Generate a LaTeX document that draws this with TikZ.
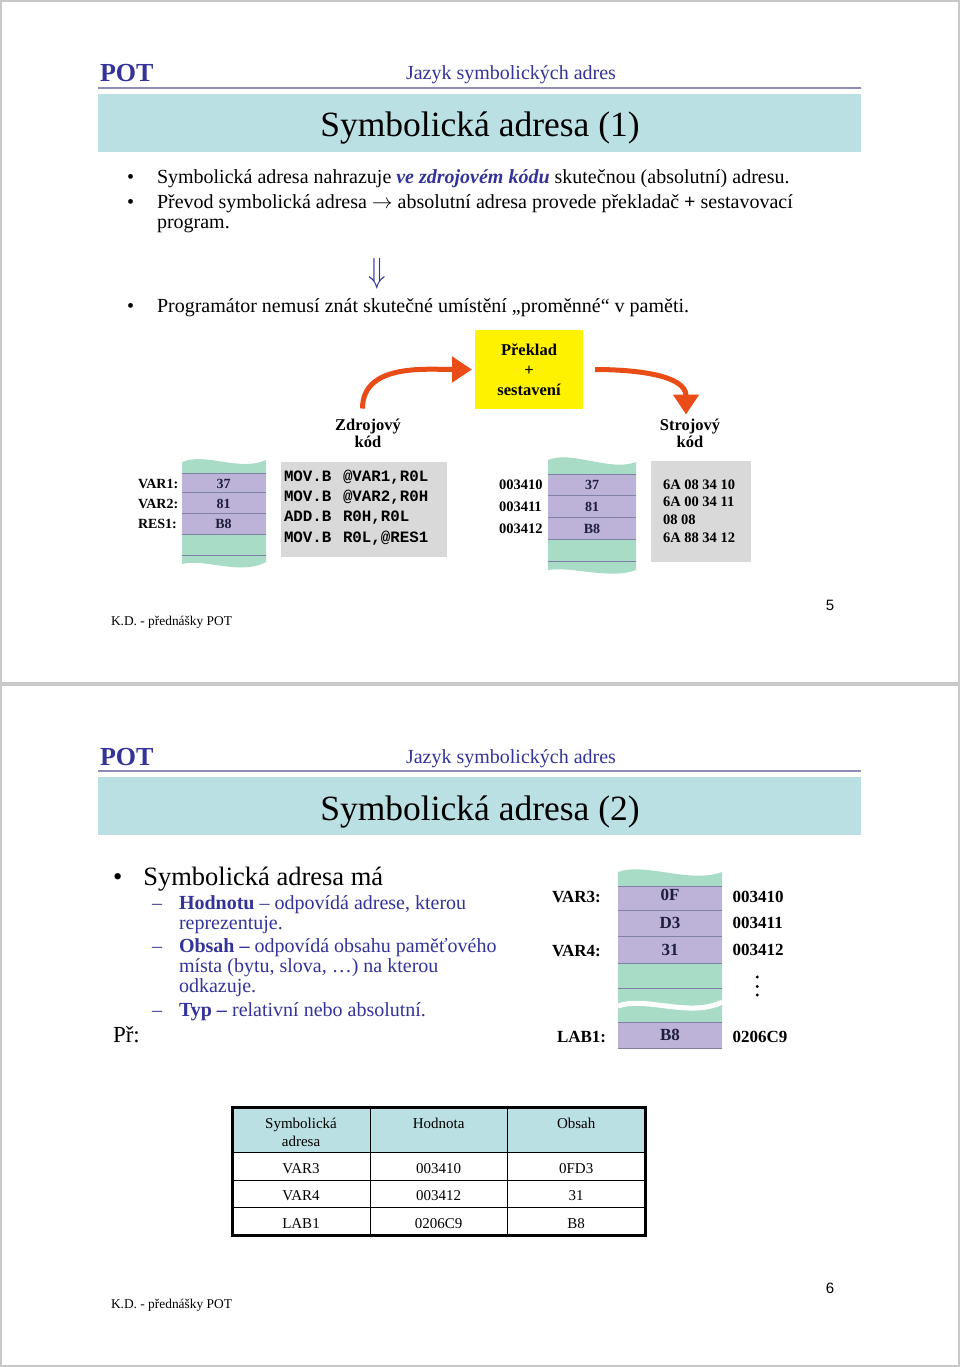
\documentclass[tikz,border=0pt]{standalone}
\usepackage{fontspec}
\setmainfont{Liberation Serif}
\setmonofont{Liberation Mono}
\newfontfamily\pagenumfont{Liberation Sans}
\usetikzlibrary{arrows.meta,positioning,calc}

\definecolor{potblue}{RGB}{51,51,153}
\definecolor{bandcyan}{RGB}{187,224,227}
\definecolor{rulegray}{RGB}{140,140,180}
\definecolor{mempurple}{RGB}{189,178,216}
\definecolor{memgreen}{RGB}{168,220,199}
\definecolor{memline}{RGB}{128,128,168}
\definecolor{memtext}{RGB}{30,30,60}
\definecolor{arroworange}{RGB}{234,76,24}
\definecolor{codegray}{RGB}{217,217,217}
\definecolor{framegray}{RGB}{200,200,200}

\newcommand{\fsz}[2]{\fontsize{#1}{#2}\selectfont}

\begin{document}
\begin{tikzpicture}[x=1pt,y=-1pt,
    every node/.style={inner sep=0pt,outer sep=0pt},
    body/.style={anchor=base west,align=left,font=\fsz{20}{19.7}},
    sub/.style={anchor=base west,align=left,font=\fsz{20}{20},text=potblue},
    memval/.style={anchor=base,font=\bfseries\fsz{14}{14},text=memtext},
    memlab/.style={anchor=base west,font=\bfseries\fsz{14.5}{14.5}},
    flowarrow/.style={draw=arroworange,line width=5pt,-{Triangle[length=20pt,width=25pt]}},
    cell/.style={anchor=base,font=\fsz{15}{18.7}}]
\useasboundingbox (0,0) rectangle (960,1367);

% Pages
\draw[framegray,line width=1.5pt] (1,1) rectangle (959,683);
\draw[framegray,line width=1.5pt] (1,685) rectangle (959,1366);

%% ---------------- Slide 5 ----------------
% Header
\node[anchor=base west,font=\bfseries\fsz{26}{26},text=potblue] (pot1) at (100,82) {POT};
\node[anchor=base,font=\fsz{20}{20},text=potblue] (topic1) at (511,80) {Jazyk symbolických adres};
\draw[rulegray,line width=2.5pt] (98,88) -- (861,88);
\fill[bandcyan] (98,94) rectangle (861,152);
\node[anchor=base,font=\fsz{35.5}{35.5}] (title1) at (480,137) {Symbolická adresa (1)};

% Bullets
\node[body] (dot1) at (127,184) {\textbullet};
\node[body] (item1) at (157,184) {Symbolická adresa nahrazuje \textcolor{potblue}{\textbf{\textit{ve zdrojovém kódu}}} skutečnou (absolutní) adresu.};
\node[body] (dot2) at (127,208.3) {\textbullet};
\node[body] (item2) at (157,228) {Převod symbolická adresa $\rightarrow$ absolutní adresa provede překladač \textbf{+} sestavovací\\program.};
\node[font=\fsz{32}{32},text=potblue] (thus) at (377.5,273.5) {\scalebox{1.15}[1.4]{$\Downarrow$}};
\node[body] (dot3) at (127,312.5) {\textbullet};
\node[body] (item3) at (157,312.5) {Programátor nemusí znát skutečné umístění „proměnné“ v paměti.};

% Translation flow
\node[fill=yellow,minimum width=108pt,minimum height=79pt,align=center,font=\bfseries\fsz{16.5}{20}] (preklad) at (529,369.5) {Překlad\\+\\sestavení};
\node[anchor=base,align=center,font=\bfseries\fsz{16.5}{17}] (zdroj) at (368,447) {Zdrojový\\kód};
\node[anchor=base,align=center,font=\bfseries\fsz{16.5}{17}] (stroj) at (690,447) {Strojový\\kód};
\draw[flowarrow] ([xshift=-5.5pt,yshift=10pt]zdroj.north) to[out=90,in=180] ([xshift=-3pt]preklad.west);
\draw[flowarrow] ([xshift=12pt]preklad.east) to[out=0,in=90] ([xshift=-4pt,yshift=4pt]stroj.north);

% Source memory
\fill[memgreen] (182,462) .. controls (205,452) and (240,472) .. (266,460)
    -- (266,562) .. controls (240,576) and (205,558) .. (182,564) -- cycle;
\fill[mempurple] (182,473.3) rectangle (266,534);
\foreach \y in {473.3,492.7,513.3,534,555}
    \draw[memline,line width=0.6pt] (182,\y) -- (266,\y);
\foreach \lab/\val/\y [count=\i] in {VAR1:/37/488,VAR2:/81/508,RES1:/B8/528}{
    \node[memlab,font=\bfseries\fsz{14}{14}] (srclab\i) at (138,\y) {\lab};
    \node[memval] (srcval\i) at (223.5,\y) {\val};
}

% Source code
\fill[codegray] (280.7,462) rectangle (446.7,556.7);
\foreach \y/\op/\arg [count=\i] in {481.7/MOV.B/{@VAR1,R0L},501.7/MOV.B/{@VAR2,R0H},521.7/ADD.B/{R0H,R0L},542.3/MOV.B/{R0L,@RES1}}{
    \node[anchor=base west,font=\ttfamily\bfseries\fsz{15.8}{15.8}] (op\i) at (284,\y) {\op};
    \node[anchor=base west,font=\ttfamily\bfseries\fsz{15.8}{15.8}] (arg\i) at (343,\y) {\arg};
}

% Machine memory
\fill[memgreen] (548,460) .. controls (572,450) and (610,472) .. (636,462)
    -- (636,570) .. controls (610,580) and (572,566) .. (548,570) -- cycle;
\fill[mempurple] (548,474) rectangle (636,539.3);
\foreach \y in {474,495,517.3,539.3,561.7}
    \draw[memline,line width=0.6pt] (548,\y) -- (636,\y);
\foreach \adr/\val/\y [count=\i] in {003410/37/489,003411/81/511,003412/B8/533}{
    \node[memlab] (adr\i) at (499,\y) {\adr};
    \node[memval] (objval\i) at (592,\y) {\val};
}

% Machine code
\fill[codegray] (651,461) rectangle (751,562);
\foreach \bytes/\y [count=\i] in {6A 08 34 10/489,6A 00 34 11/506.5,08 08/524,6A 88 34 12/542}
    \node[anchor=base west,font=\bfseries\fsz{14.5}{14.5}] (hex\i) at (663,\y) {\bytes};

% Footer
\node[anchor=base west,font=\fsz{13.4}{13.4}] (foot1) at (111,625) {K.D. - přednášky POT};
\node[anchor=base,font=\pagenumfont\fsz{15}{15}] (num1) at (830,610) {5};

%% ---------------- Slide 6 ----------------
% Header
\node[anchor=base west,font=\bfseries\fsz{26}{26},text=potblue] (pot2) at (100,765) {POT};
\node[anchor=base,font=\fsz{20}{20},text=potblue] (topic2) at (511,763) {Jazyk symbolických adres};
\draw[rulegray,line width=2.5pt] (98,771) -- (861,771);
\fill[bandcyan] (98,777) rectangle (861,835);
\node[anchor=base,font=\fsz{35.5}{35.5}] (title2) at (480,820) {Symbolická adresa (2)};

% Bullet with sub items
\node[anchor=base west,font=\fsz{26.5}{26.5}] (dot4) at (113,885) {\textbullet};
\node[anchor=base west,font=\fsz{26.5}{26.5}] (item4) at (143.3,885) {Symbolická adresa má};
\node[sub] (dash1) at (152,909) {–};
\node[sub] (sub1) at (179,929) {\textbf{Hodnotu} – odpovídá adrese, kterou\\reprezentuje.};
\node[sub] (dash2) at (152,952) {–};
\node[sub] (sub2) at (179,992) {\textbf{Obsah –} odpovídá obsahu paměťového\\místa (bytu, slova, …) na kterou\\odkazuje.};
\node[sub] (dash3) at (152,1016.5) {–};
\node[sub] (sub3) at (179,1016.5) {\textbf{Typ –} relativní nebo absolutní.};
\node[anchor=base west,font=\fsz{23}{23}] (example) at (113,1042) {Př:};

% Example memory
\fill[memgreen] (618,872) .. controls (645,862) and (690,884) .. (722,872)
    -- (722,1048.3) -- (618,1048.3) -- cycle;
\fill[mempurple] (618,886) rectangle (722,963.3);
\fill[mempurple] (618,1022.7) rectangle (722,1048.3);
\foreach \y in {886,910.7,936.7,963.3,988.3,1022.7,1048.3}
    \draw[memline,line width=0.6pt] (618,\y) -- (722,\y);
\draw[white,line width=5pt] (618,1006) .. controls (645,996) and (690,1018) .. (722,1002);
\foreach \val/\y [count=\i] in {0F/900,D3/928.3,31/955.7,B8/1040}
    \node[memval,font=\bfseries\fsz{17}{17}] (exval\i) at (670,\y) {\val};
\node[memlab,font=\bfseries\fsz{17}{17}] (exlab1) at (552,902.7) {VAR3:};
\node[memlab,font=\bfseries\fsz{17}{17}] (exlab2) at (552,956) {VAR4:};
\node[memlab,font=\bfseries\fsz{17}{17}] (exlab3) at (557,1042.7) {LAB1:};
\foreach \adr/\y [count=\i] in {003410/902.7,003411/928.3,003412/955,0206C9/1042.7}
    \node[memlab,font=\bfseries\fsz{17}{17}] (exadr\i) at (732.7,\y) {\adr};
\foreach \y in {977,986.5,995}
    \fill (757.3,\y) circle (1.6);

% Table
\fill[bandcyan] (232,1107) rectangle (645,1152.3);
\foreach \x in {370,507.3}
    \draw[line width=0.9pt] (\x,1107) -- (\x,1235);
\foreach \y in {1152.3,1180,1207.3}
    \draw[line width=0.9pt] (232,\y) -- (645,\y);
\draw[line width=3pt] (232,1107) rectangle (645,1235);
\node[cell,align=center] (thsym) at (301,1146.7) {Symbolická\\adresa};
\node[cell] (thval) at (438.6,1128) {Hodnota};
\node[cell] (thobs) at (576.2,1128) {Obsah};
\foreach \sym/\hod/\obs/\y [count=\i] in {VAR3/003410/0FD3/1173.3,VAR4/003412/31/1200,LAB1/0206C9/B8/1228.3}{
    \node[cell] (sym\i) at (301,\y) {\sym};
    \node[cell] (hod\i) at (438.6,\y) {\hod};
    \node[cell] (obs\i) at (576.2,\y) {\obs};
}

% Footer
\node[anchor=base west,font=\fsz{13.4}{13.4}] (foot2) at (111,1308) {K.D. - přednášky POT};
\node[anchor=base,font=\pagenumfont\fsz{15}{15}] (num2) at (830,1293) {6};
\end{tikzpicture}
\end{document}
